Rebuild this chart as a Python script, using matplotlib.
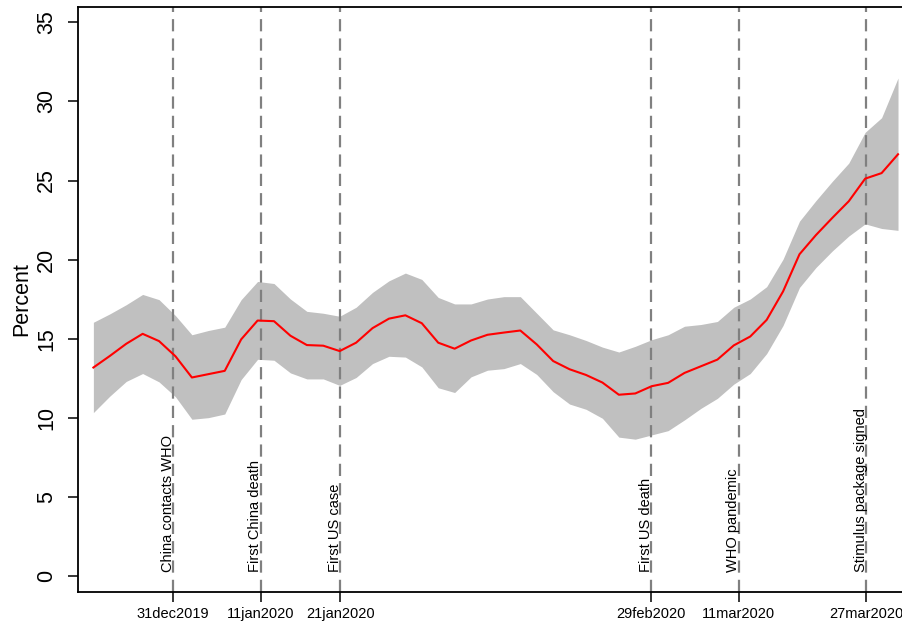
import numpy as np
import matplotlib
matplotlib.use("Agg")
import matplotlib.pyplot as plt
import matplotlib.dates as mdates
import matplotlib.transforms as mtransforms
from datetime import datetime

plt.rcParams['font.family'] = ['Liberation Sans', 'DejaVu Sans']

# series: 50 points from 21dec2019 to 31mar2020
start = datetime(2019, 12, 21)
n_days = 101
center = [13.18, 13.91, 14.68, 15.31, 14.85, 13.89, 12.55, 12.76, 12.97, 14.96,
          16.15, 16.11, 15.19, 14.60, 14.56, 14.22, 14.75, 15.67, 16.27, 16.48,
          15.98, 14.75, 14.37, 14.89, 15.25, 15.39, 15.52, 14.64, 13.59, 13.07,
          12.71, 12.23, 11.46, 11.54, 12.00, 12.21, 12.84, 13.26, 13.68, 14.58,
          15.14, 16.19, 17.99, 20.34, 21.55, 22.64, 23.69, 25.12, 25.47, 26.66]
upper = [16.04, 16.57, 17.15, 17.80, 17.47, 16.46, 15.25, 15.52, 15.73, 17.47,
         18.62, 18.49, 17.51, 16.73, 16.61, 16.42, 16.99, 17.93, 18.66, 19.15,
         18.75, 17.61, 17.20, 17.20, 17.51, 17.66, 17.66, 16.61, 15.56, 15.25,
         14.89, 14.47, 14.16, 14.52, 14.94, 15.25, 15.79, 15.90, 16.09, 16.99,
         17.51, 18.29, 20.03, 22.43, 23.73, 24.95, 26.10, 28.05, 28.97, 31.48]
lower = [10.33, 11.37, 12.30, 12.80, 12.27, 11.33, 9.91, 10.01, 10.24, 12.42,
         13.70, 13.64, 12.84, 12.46, 12.46, 12.05, 12.55, 13.43, 13.89, 13.84,
         13.22, 11.90, 11.60, 12.59, 13.01, 13.11, 13.43, 12.74, 11.65, 10.87,
         10.54, 9.97, 8.78, 8.65, 8.92, 9.19, 9.87, 10.60, 11.23, 12.13,
         12.80, 14.06, 15.84, 18.24, 19.50, 20.55, 21.49, 22.26, 21.97, 21.85]

event_dates = [datetime(2019, 12, 31), datetime(2020, 1, 11), datetime(2020, 1, 21),
               datetime(2020, 2, 29), datetime(2020, 3, 11), datetime(2020, 3, 27)]
event_labels = ["China contacts WHO", "First China death", "First US case",
                "First US death", "WHO pandemic", "Stimulus package signed"]

x0 = mdates.date2num(start)
x = x0 + np.linspace(0, n_days, len(center))

fig = plt.figure(figsize=(9.02, 6.22), dpi=100)
ax = fig.add_axes([78 / 902, 30 / 622, 1 - 78 / 902, 585 / 622])

ax.fill_between(x, lower, upper, color='#c0c0c0', linewidth=0, zorder=1)
ax.plot(x, center, color='red', linewidth=1.5, zorder=3)

ev = mdates.date2num(event_dates)
shift = mtransforms.offset_copy(ax.transData, fig=fig, x=-1.5, y=0, units='dots')
for d, lab in zip(ev, event_labels):
    ax.axvline(d, color='#808080', linewidth=1.6, dashes=(5.5, 3.2), zorder=2)
    ax.text(d, 0.25, lab, rotation=90, rotation_mode='anchor', ha='left',
            va='baseline', fontsize=10.5, transform=shift, zorder=4)

ax.set_xlim(mdates.date2num(datetime(2019, 12, 31)) - 11.93,
            mdates.date2num(datetime(2019, 12, 31)) + 91.5)
ax.set_ylim(-1.01, 35.97)

ax.set_xticks(ev)
ax.set_xticklabels([d.strftime('%d%b%Y').lower() for d in event_dates], fontsize=10.5)
ax.set_yticks(range(0, 40, 5))
ax.set_yticklabels([str(v) for v in range(0, 40, 5)], fontsize=15.5, rotation=90,
                   va='center')
ax.set_ylabel('Percent', fontsize=15.5, labelpad=3)

ax.tick_params(axis='both', direction='out', length=7, width=1.1)
ax.tick_params(axis='x', pad=4)
ax.tick_params(axis='y', pad=8)
for s in ['left', 'bottom', 'top']:
    ax.spines[s].set_linewidth(1.3)
ax.spines['right'].set_visible(False)

fig.savefig('out.png', dpi=100)
